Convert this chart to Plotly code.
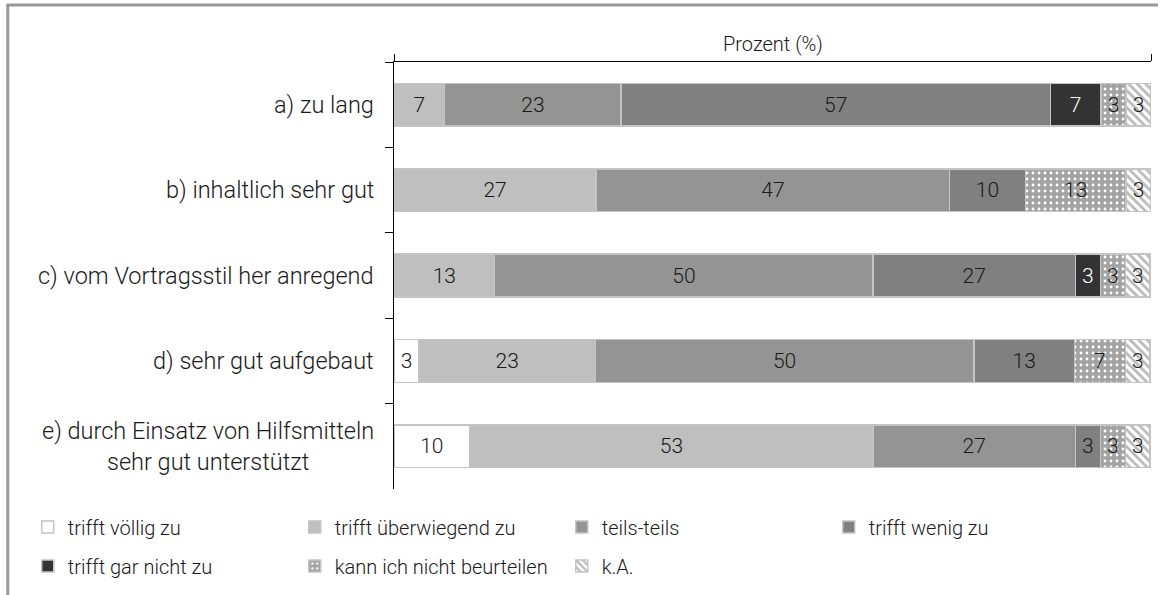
import plotly.graph_objects as go

categories = ["a) zu lang", "b) inhaltlich sehr gut", "c) vom Vortragsstil her anregend",
              "d) sehr gut aufgebaut", "e) durch Einsatz von Hilfsmitteln<br>sehr gut unterstützt"]
cat_keys = ["a", "b", "c", "d", "e"]

series_names = ["trifft völlig zu", "trifft überwiegend zu", "teils-teils", "trifft wenig zu",
                "trifft gar nicht zu", "kann ich nicht beurteilen", "k.A."]

voellig = [None, None, None, 3.3, 10.0]
ueberwiegend = [6.7, 26.7, 13.3, 23.3, 53.3]
teils = [23.3, 46.7, 50.0, 50.0, 26.7]
wenig = [56.7, 10.0, 26.7, 13.3, 3.3]
gar_nicht = [6.7, None, 3.3, None, None]
kann_nicht = [3.3, 13.3, 3.3, 6.7, 3.3]
k_a = [3.3, 3.3, 3.3, 3.3, 3.3]

series_values = [voellig, ueberwiegend, teils, wenig, gar_nicht, kann_nicht, k_a]

styles = [
    dict(color="#ffffff", text="#1a1a1a", pattern=None),
    dict(color="#bfbfbf", text="#1a1a1a", pattern=None),
    dict(color="#949494", text="#1a1a1a", pattern=None),
    dict(color="#808080", text="#1a1a1a", pattern=None),
    dict(color="#333333", text="#ffffff", pattern=None),
    dict(color="#a3a3a3", text="#1a1a1a", pattern=dict(shape=".", fgcolor="#ffffff", bgcolor="#a3a3a3",
                                                       fillmode="replace", size=6, solidity=0.18)),
    dict(color="#ffffff", text="#1a1a1a", pattern=dict(shape="\\", fgcolor="#b8b8b8", bgcolor="#ffffff",
                                                       fillmode="replace", size=6, solidity=0.45)),
]

FONT = "Roboto"
WEIGHT = 300

# pixel geometry helpers
L, R, T, B = 393.5, 1151.0, 62.0, 489.0
W, H = R - L, B - T


def px(xp):
    return (xp - L) / W


def py(yp):
    return (B - yp) / H


fig = go.Figure()
for i, (name, vals, st) in enumerate(zip(series_names, series_values, styles)):
    marker = dict(color=st["color"], line=dict(color="#c4c4c4", width=1.5))
    if st["pattern"]:
        marker["pattern"] = st["pattern"]
    fig.add_trace(go.Bar(
        name=name, y=cat_keys, x=vals, orientation="h",
        marker=marker,
        text=[("%.0f" % v) if v is not None else "" for v in vals],
        textposition="inside", insidetextanchor="middle", textangle=0,
        constraintext="none",
        insidetextfont=dict(family=FONT, size=21, color=st["text"], weight=WEIGHT),
        legend="legend" if i < 4 else "legend2",
        hoverinfo="skip",
    ))

for key, label in zip(cat_keys, categories):
    fig.add_annotation(x=0, xref="paper", y=key, yref="y", xanchor="right", xshift=-18,
                       text=label, showarrow=False, align="center",
                       font=dict(family=FONT, size=23.5, color="#1a1a1a", weight=WEIGHT))

fig.add_annotation(x=0.5, xref="paper", y=py(44), yref="paper", text="Prozent (%)",
                   showarrow=False, xanchor="center", yanchor="middle",
                   font=dict(family=FONT, size=20, color="#1a1a1a", weight=WEIGHT))

# outer frame (top and left)
fig.add_shape(type="line", xref="paper", yref="paper", x0=px(6), x1=px(1158), y0=py(5), y1=py(5),
              line=dict(color="#999999", width=3))
fig.add_shape(type="line", xref="paper", yref="paper", x0=px(7), x1=px(7), y0=py(4), y1=py(600),
              line=dict(color="#999999", width=3))

legend_common = dict(orientation="h", x=px(27), xanchor="left", yanchor="middle",
                     entrywidth=222, entrywidthmode="pixels", traceorder="normal",
                     font=dict(family=FONT, size=20, color="#1a1a1a", weight=WEIGHT),
                     bgcolor="rgba(0,0,0,0)")

fig.update_layout(
    width=1163, height=595,
    margin=dict(l=L, r=1163 - R, t=T, b=595 - B, autoexpand=False),
    barmode="stack", bargap=0.5,
    plot_bgcolor="white", paper_bgcolor="white",
    font=dict(family=FONT, size=16, color="#1a1a1a"),
    xaxis=dict(side="top", range=[0, 100], showline=True, linecolor="#000000", linewidth=1,
               ticks="outside", tickvals=[0, 100], ticklen=7, tickcolor="#000000",
               showticklabels=False, showgrid=False, zeroline=False, fixedrange=True),
    yaxis=dict(categoryorder="array", categoryarray=cat_keys, autorange="reversed",
               showline=True, linecolor="#000000", linewidth=1, ticks="outside",
               tickson="boundaries", ticklen=8, tickcolor="#000000", showticklabels=False,
               showgrid=False, zeroline=False, fixedrange=True),
    legend=dict(legend_common, y=py(527)),
    legend2=dict(legend_common, y=py(566)),
    showlegend=True,
)

fig.write_html("out.html", config={"displayModeBar": False},
               post_script="document.body.style.margin='0';")
